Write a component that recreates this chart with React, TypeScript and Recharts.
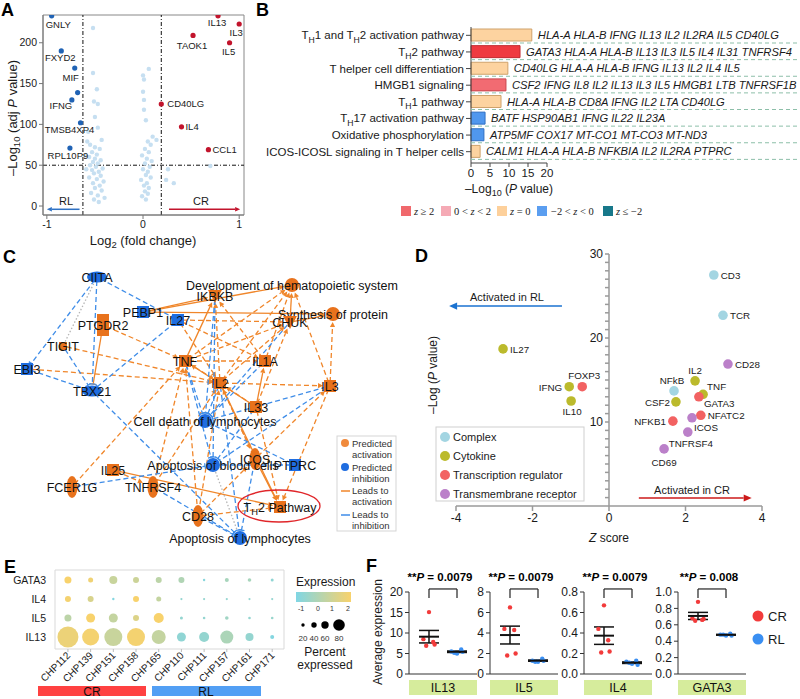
import React from "react";
import {
  ScatterChart,
  Scatter,
  XAxis,
  YAxis,
  ReferenceLine,
  ReferenceArea,
  BarChart,
  Bar,
  Cell,
  LabelList,
  ErrorBar,
} from "recharts";

const AF = "'Liberation Sans', Arial, Helvetica, sans-serif";
const SERIF = "'Liberation Serif', 'Times New Roman', serif";
const INK = "#1a1a1a";

// ---------- A: volcano ----------
const volcanoNs: [number, number][] = [
  [-0.52, 218], [-0.52, 163], [-0.48, 143], [-0.51, 128], [-0.47, 125], [-0.5, 109],
  [-0.57, 91], [-0.47, 96], [-0.43, 81], [-0.58, 79], [-0.55, 75], [-0.5, 72],
  [-0.45, 70], [-0.53, 66], [-0.48, 63], [-0.56, 60], [-0.5, 58], [-0.44, 56],
  [-0.52, 54], [-0.47, 52], [-0.55, 50], [-0.49, 48], [-0.42, 46], [-0.53, 44],
  [-0.46, 42], [-0.51, 40], [-0.44, 37], [-0.56, 35], [-0.48, 33], [-0.41, 30],
  [-0.52, 28], [-0.45, 25], [-0.5, 22], [-0.43, 19], [-0.54, 16], [-0.47, 13],
  [-0.4, 10], [-0.51, 8], [-0.46, 5], [-0.6, 62], [-0.59, 45],
  [0.06, 168], [0.0, 160], [0.01, 155], [0.0, 140], [0.01, 130], [0.01, 118],
  [0.03, 105], [0.1, 85], [0.14, 81], [0.05, 79], [0.08, 75], [0.02, 70],
  [0.06, 66], [-0.01, 62], [0.04, 58], [0.09, 55], [0.02, 52], [0.07, 48],
  [0.0, 45], [0.05, 42], [0.03, 38], [0.08, 35], [-0.02, 32], [0.04, 28],
  [0.01, 25], [0.06, 22], [0.02, 18], [0.05, 15], [-0.01, 12], [0.03, 8],
  [0.26, 45], [0.32, 28], [0.24, 32], [0.7, 49],
];
const volcanoRL = [
  { gene: "GNLY", fc: -0.95, p: 233 },
  { gene: "FXYD2", fc: -0.85, p: 190 },
  { gene: "MIF", fc: -0.71, p: 169 },
  { gene: "", fc: -0.68, p: 139 },
  { gene: "IFNG", fc: -0.74, p: 130 },
  { gene: "TMSB4XP4", fc: -0.65, p: 102 },
  { gene: "RPL10P9", fc: -0.76, p: 71 },
];
const volcanoCR = [
  { gene: "IL13", fc: 0.78, p: 233 },
  { gene: "IL3", fc: 1.0, p: 223 },
  { gene: "IL5", fc: 0.9, p: 200 },
  { gene: "TAOK1", fc: 0.52, p: 209 },
  { gene: "CD40LG", fc: 0.19, p: 125 },
  { gene: "IL4", fc: 0.4, p: 97 },
  { gene: "CCL1", fc: 0.68, p: 69 },
];
const volcanoLabelPos: Record<string, [number, number, string]> = {
  GNLY: [-6, 12.5, "start"], FXYD2: [-1, 10.5, "middle"], MIF: [-4, 12.5, "middle"],
  IFNG: [-11, 9.5, "middle"], TMSB4XP4: [-11, 10.5, "middle"], RPL10P9: [-2, 10.5, "middle"],
  IL13: [-1, 10.5, "middle"], IL3: [-3, 12.5, "middle"], IL5: [-1, 12.5, "middle"],
  TAOK1: [-1, 13.5, "middle"], CD40LG: [6, 3.5, "start"], IL4: [4, 3.5, "start"], CCL1: [4, 3.5, "start"],
};

// ---------- B: pathways ----------
const pathways = [
  "T{H}1 and T{H}2 activation pathway",
  "T{H}2 pathway",
  "T helper cell differentiation",
  "HMGB1 signaling",
  "T{H}1 pathway",
  "T{H}17 activation pathway",
  "Oxidative phosphorylation",
  "ICOS-ICOSL signaling in T helper cells",
];
const pathwayLogP = [16.0, 12.9, 9.7, 9.2, 7.9, 3.7, 3.4, 2.4];
const pathwayZ = [0, 3.1, 0, 2.2, 0, -1, -1, 0];
const pathwayGenes = [
  "HLA-A HLA-B IFNG IL13 IL2 IL2RA IL5 CD40LG",
  "GATA3 HLA-A HLA-B IL13 IL3 IL5 IL4 IL31 TNFRSF4",
  "CD40LG HLA-A HLA-B IFNG IL13 IL2 IL4 IL5",
  "CSF2 IFNG IL8 IL2 IL13 IL3 IL5 HMGB1 LTB TNFRSF1B",
  "HLA-A HLA-B CD8A IFNG IL2 LTA CD40LG",
  "BATF HSP90AB1 IFNG IL22 IL23A",
  "ATP5MF COX17 MT-CO1 MT-CO3 MT-ND3",
  "CALM1 HLA-A HLA-B NFKBIA IL2 IL2RA PTPRC",
];

// ---------- C: network ----------
const netNodes = [
  { id: "CIITA", label: "CIITA", x: 97, y: 277, state: "down", kind: "hell" },
  { id: "IKBKB", label: "IKBKB", x: 215, y: 296, state: "up", kind: "tri" },
  { id: "DEV", label: "Development of hematopoietic system", x: 292, y: 285, state: "up", kind: "circle" },
  { id: "SYN", label: "Synthesis of protein", x: 333, y: 314, state: "up", kind: "circle" },
  { id: "PEBP1", label: "PEBP1", x: 143, y: 312, state: "down", kind: "sq" },
  { id: "PTGDR2", label: "PTGDR2", x: 103, y: 325, state: "up", kind: "rect" },
  { id: "IL27", label: "IL27", x: 178, y: 320, state: "down", kind: "sq" },
  { id: "CHUK", label: "CHUK", x: 290, y: 322, state: "up", kind: "tri" },
  { id: "TIGIT", label: "TIGIT", x: 63, y: 346, state: "up", kind: "dot" },
  { id: "EBI3", label: "EBI3", x: 27, y: 369, state: "down", kind: "sq" },
  { id: "TNF", label: "TNF", x: 185, y: 361, state: "up", kind: "sq" },
  { id: "IL1A", label: "IL1A", x: 265, y: 361, state: "up", kind: "sq" },
  { id: "TBX21", label: "TBX21", x: 92, y: 391, state: "down", kind: "hell" },
  { id: "IL2", label: "IL2", x: 220, y: 383, state: "up", kind: "sq" },
  { id: "IL3", label: "IL3", x: 330, y: 386, state: "up", kind: "sq" },
  { id: "IL33", label: "IL33", x: 256, y: 407, state: "up", kind: "sq" },
  { id: "CDL", label: "Cell death of lymphocytes", x: 205, y: 421, state: "down", kind: "circle" },
  { id: "ICOS", label: "ICOS", x: 255, y: 459, state: "up", kind: "ell" },
  { id: "PTPRC", label: "PTPRC", x: 295, y: 465, state: "down", kind: "sq" },
  { id: "ABC", label: "Apoptosis of blood cells", x: 213, y: 465, state: "down", kind: "circle" },
  { id: "IL25", label: "IL25", x: 113, y: 470, state: "up", kind: "sq" },
  { id: "FCER1G", label: "FCER1G", x: 72, y: 487, state: "up", kind: "ell" },
  { id: "TNFRSF4", label: "TNFRSF4", x: 153, y: 487, state: "up", kind: "ell" },
  { id: "TH2", label: "T{H}2 Pathway", x: 280, y: 507, state: "up", kind: "sq" },
  { id: "CD28", label: "CD28", x: 198, y: 516, state: "up", kind: "ell" },
  { id: "AL", label: "Apoptosis of lymphocytes", x: 240, y: 538, state: "down", kind: "circle" },
];
// a = activation (dashed), A = activation (solid), i = inhibition, I = solid inhibition, g = no prediction
const netEdges: [string, string, string][] = [
  ["PEBP1", "IKBKB", "A"], ["PEBP1", "DEV", "A"], ["PEBP1", "SYN", "A"], ["IL27", "CHUK", "a"],
  ["TNF", "IKBKB", "A"], ["TNF", "DEV", "a"], ["TNF", "CHUK", "a"], ["TNF", "IL1A", "a"], ["TNF", "IL2", "a"],
  ["IL2", "IL3", "a"], ["IL2", "IKBKB", "a"], ["IL2", "DEV", "a"], ["IL2", "CHUK", "a"],
  ["IL1A", "DEV", "a"], ["IL1A", "IKBKB", "a"], ["IL33", "IL1A", "A"], ["IL33", "CHUK", "a"],
  ["IL33", "TNF", "A"], ["IL33", "IL2", "a"], ["IL3", "SYN", "a"], ["IL3", "DEV", "a"],
  ["CHUK", "DEV", "A"], ["CHUK", "SYN", "A"], ["IL27", "IL2", "a"], ["IL27", "IL1A", "a"],
  ["TIGIT", "IL2", "a"], ["EBI3", "IL2", "a"], ["PTGDR2", "TBX21", "I"], ["PTGDR2", "TNF", "a"],
  ["FCER1G", "TNF", "a"], ["TNFRSF4", "TNF", "a"], ["TNFRSF4", "IL2", "a"], ["IL25", "TNFRSF4", "a"],
  ["IL25", "TH2", "A"], ["CD28", "IL2", "a"], ["CD28", "TNF", "a"], ["CD28", "ICOS", "a"],
  ["CD28", "TH2", "a"], ["ICOS", "TH2", "A"], ["ICOS", "IL2", "a"], ["ICOS", "IL3", "a"],
  ["IL3", "TH2", "a"], ["IL2", "TH2", "A"], ["IL2", "ICOS", "a"], ["IL33", "TH2", "a"],
  ["CIITA", "EBI3", "i"], ["CIITA", "TBX21", "i"], ["CIITA", "IL27", "i"], ["CIITA", "TIGIT", "g"],
  ["IL27", "TBX21", "i"], ["EBI3", "TBX21", "i"], ["TIGIT", "TBX21", "i"], ["TBX21", "AL", "i"],
  ["FCER1G", "ABC", "i"], ["TNFRSF4", "AL", "i"], ["CD28", "AL", "i"], ["PTPRC", "ABC", "i"],
  ["PTPRC", "CDL", "i"], ["IL3", "CDL", "i"], ["IL3", "ABC", "i"], ["IL1A", "CDL", "i"],
  ["CHUK", "CDL", "i"], ["TNF", "CDL", "i"], ["TNF", "ABC", "i"], ["IL2", "CDL", "i"],
  ["IL2", "AL", "i"], ["ICOS", "AL", "i"], ["IKBKB", "CDL", "i"], ["IL33", "ABC", "i"],
  ["IKBKB", "ABC", "i"], ["ABC", "AL", "g"],
];

// ---------- D: upstream regulators ----------
const dComplex = [
  { name: "CD3", z: 2.74, p: 27.5 },
  { name: "TCR", z: 2.98, p: 22.7 },
  { name: "NFkB", z: 1.7, p: 13.7 },
];
const dCytokine = [
  { name: "IL27", z: -2.77, p: 18.7 },
  { name: "IFNG", z: -1.04, p: 14.2 },
  { name: "IL10", z: -0.99, p: 12.5 },
  { name: "IL2", z: 2.25, p: 14.9 },
  { name: "TNF", z: 2.46, p: 13.3 },
  { name: "CSF2", z: 1.75, p: 12.4 },
];
const dTranscription = [
  { name: "FOXP3", z: -0.7, p: 14.2 },
  { name: "GATA3", z: 2.35, p: 13.0 },
  { name: "NFATC2", z: 2.4, p: 10.8 },
  { name: "NFKB1", z: 1.67, p: 10.1 },
];
const dMembrane = [
  { name: "CD28", z: 3.11, p: 16.9 },
  { name: "ICOS", z: 2.17, p: 10.5 },
  { name: "TNFRSF4", z: 2.06, p: 8.8 },
  { name: "CD69", z: 1.44, p: 6.8 },
];
const dLabelPos: Record<string, [number, number, string]> = {
  CD3: [7, 4, "start"], TCR: [7, 4, "start"], IL27: [7, 4, "start"], CD28: [7, 4, "start"],
  IL2: [0, -7, "middle"], FOXP3: [2, -8, "middle"], IFNG: [-7, 4, "end"], NFkB: [-2, -7, "middle"],
  TNF: [4, -4, "start"], GATA3: [5, 10, "start"], IL10: [1, 14, "middle"], CSF2: [-6, 4, "end"],
  NFATC2: [7, 4, "start"], ICOS: [2, 13, "start"], NFKB1: [-7, 4, "end"], TNFRSF4: [-19, 15, "start"],
  CD69: [0, 17, "middle"],
};

// ---------- E: dot plot ----------
const eSamples = ["CHP112", "CHP139", "CHP151", "CHP158", "CHP165", "CHP110", "CHP111", "CHP157", "CHP161", "CHP171"];
const eGenes = ["IL13", "IL5", "IL4", "GATA3"];
const ePctGATA3 = [25, 15, 30, 20, 20, 20, 2, 10, 8, 5];
const ePctIL4 = [20, 20, 2, 20, 15, 1, 1, 1, 1, 1];
const ePctIL5 = [25, 35, 35, 20, 40, 5, 3, 8, 3, 3];
const ePctIL13 = [95, 75, 80, 80, 60, 35, 40, 55, 30, 10];
const eExpGATA3 = [2, 1.8, 0.8, 0.9, 0.5, 0.2, -0.8, 0, 0, -0.6];
const eExpIL4 = [1.9, 1.2, -0.9, 2, 0.7, -0.5, -0.5, -0.5, -0.5, -0.5];
const eExpIL5 = [0.5, 2, 0.7, 1.3, 2, -0.5, -0.5, -0.2, -0.5, -0.4];
const eExpIL13 = [1.7, 1.9, 0.8, 1.9, 0.7, -0.6, -0.5, 0.1, -0.5, -0.9];

// ---------- F: expression ----------
const fGenes = ["IL13", "IL5", "IL4", "GATA3"];
const fCR = [
  [15.1, 8.5, 7.8, 6.9, 7.2],
  [6.5, 4.4, 4.3, 1.8, 2.0],
  [0.67, 0.44, 0.33, 0.21, 0.22],
  [0.88, 0.68, 0.66, 0.65, 0.67],
];
const fRL = [
  [5.0, 5.5, 6.0, 5.2, 5.4],
  [1.2, 1.3, 1.5, 1.2, 1.3],
  [0.1, 0.12, 0.13, 0.11, 0.09],
  [0.47, 0.48, 0.49, 0.48, 0.47],
];
const fPvals = ["0.0079", "0.0079", "0.0079", "0.008"];
const fMax = [20, 8, 0.8, 1.0];
const fTicks = [
  [0, 5, 10, 15, 20],
  [0, 2, 4, 6, 8],
  [0, 0.2, 0.4, 0.6, 0.8],
  [0, 0.2, 0.4, 0.6, 0.8, 1.0],
];
const fJitter = [0, -0.2, 0.15, -0.1, 0.2];
const F_X0 = [409, 490, 584, 678];

// ---------- helpers ----------
const ORANGE = "#e8721c";
const BLUE = "#1f6de0";
const ORANGE_E = "#f0862a";
const BLUE_E = "#3f8de8";

function subText(s: string, fs: number) {
  const out: any[] = [];
  let shifted = false;
  s.split(/(\{[^}]*\})/)
    .filter(Boolean)
    .forEach((part, i) => {
      if (part.startsWith("{")) {
        out.push(
          <tspan key={i} dy={fs * 0.3} fontSize={fs * 0.75}>
            {part.slice(1, -1)}
          </tspan>
        );
        shifted = true;
      } else {
        out.push(
          <tspan key={i} dy={shifted ? -fs * 0.3 : 0}>
            {part}
          </tspan>
        );
        shifted = false;
      }
    });
  return out;
}

const arrowShape = (color: string, head = 6, w = 1.5) => (p: any) => {
  const { x1, y1, x2, y2 } = p;
  const a = Math.atan2(y2 - y1, x2 - x1);
  const hx = x2 - head * Math.cos(a);
  const hy = y2 - head * Math.sin(a);
  const px = -Math.sin(a) * head * 0.45;
  const py = Math.cos(a) * head * 0.45;
  return (
    <g>
      <line x1={x1} y1={y1} x2={hx} y2={hy} stroke={color} strokeWidth={w} />
      <polygon points={`${x2},${y2} ${hx + px},${hy + py} ${hx - px},${hy - py}`} fill={color} />
    </g>
  );
};

const plainLine = (p: any) => (
  <line x1={p.x1} y1={p.y1} x2={p.x2} y2={p.y2} stroke="#222" strokeWidth={1.2} />
);

const volcanoDot = (color: string) => (p: any) => {
  const lab = volcanoLabelPos[p.payload.gene];
  return (
    <g>
      <circle cx={p.cx} cy={p.cy} r={2.6} fill={color} />
      {lab && (
        <text x={p.cx + lab[0]} y={p.cy + lab[1]} textAnchor={lab[2]} fontSize={9.5} fontFamily={AF} fill={INK}>
          {p.payload.gene}
        </text>
      )}
    </g>
  );
};

const nsDot = (p: any) => <circle cx={p.cx} cy={p.cy} r={2.2} fill="#c6dff1" />;

function zStyle(z: number) {
  if (z >= 3) return { fill: "#ef3a40", stroke: "#c22b31" };
  if (z >= 2) return { fill: "#f26b72", stroke: "#c9464d" };
  if (z > 0) return { fill: "#f5aab5", stroke: "#d0808c" };
  if (z === 0) return { fill: "#fdd3a0", stroke: "#cfa26b" };
  if (z > -2) return { fill: "#5097ee", stroke: "#2f6fc2" };
  return { fill: "#17788a", stroke: "#0f5663" };
}

const bTick = (p: any) => (
  <text x={p.x} y={p.y + 4} textAnchor="end" fontSize={11.5} fontFamily={AF} fill={INK}>
    {subText(p.payload.value, 11.5)}
  </text>
);

const geneLabel = (p: any) => {
  const { x, y, width, height, value } = p;
  const cy = y + height / 2;
  return (
    <g>
      <line x1={x} x2={798} y1={cy + 8} y2={cy + 8} stroke="#8dbfa9" strokeDasharray="4 3" strokeWidth={1} />
      <text x={x + width + 6} y={cy + 4} fontSize={11.2} fontStyle="italic" fontFamily={AF} fill={INK}>
        {value}
      </text>
    </g>
  );
};

const nodeR: Record<string, number> = { circle: 7, sq: 6, rect: 10, ell: 10, hell: 6, tri: 6, dot: 4 };
const nodeById: Record<string, any> = {};
netNodes.forEach((n) => (nodeById[n.id] = n));

const edgeShape = (kind: string, rEnd: number) => (p: any) => {
  const { x1, y1, x2, y2 } = p;
  const dx = x2 - x1;
  const dy = y2 - y1;
  const L = Math.hypot(dx, dy) || 1;
  const ux = dx / L;
  const uy = dy / L;
  const sx = x1 + ux * 4;
  const sy = y1 + uy * 4;
  const ex = x2 - ux * (rEnd + 1);
  const ey = y2 - uy * (rEnd + 1);
  const col = kind === "i" ? BLUE_E : kind === "g" ? "#b5b5b5" : ORANGE_E;
  const dash = kind === "A" || kind === "I" ? undefined : kind === "g" ? "1.5 2" : "5 3";
  const head = kind === "a" || kind === "A";
  const bar = kind === "i" || kind === "I";
  const hx = ex - ux * 5;
  const hy = ey - uy * 5;
  return (
    <g>
      <line x1={sx} y1={sy} x2={head ? hx : ex} y2={head ? hy : ey} stroke={col} strokeWidth={1.3} strokeDasharray={dash} />
      {head && (
        <polygon points={`${ex},${ey} ${hx - uy * 2.6},${hy + ux * 2.6} ${hx + uy * 2.6},${hy - ux * 2.6}`} fill={col} />
      )}
      {bar && <line x1={ex - uy * 3} y1={ey + ux * 3} x2={ex + uy * 3} y2={ey - ux * 3} stroke={col} strokeWidth={1.3} />}
    </g>
  );
};

const nodeShape = (p: any) => {
  const { cx, cy, payload } = p;
  const col = payload.state === "up" ? ORANGE : BLUE;
  let mark: any = null;
  switch (payload.kind) {
    case "circle":
      mark = <circle cx={cx} cy={cy} r={7} fill={col} />;
      break;
    case "rect":
      mark = <rect x={cx - 6} y={cy - 11} width={12} height={22} fill={col} />;
      break;
    case "ell":
      mark = <ellipse cx={cx} cy={cy} rx={5.5} ry={11} fill={col} />;
      break;
    case "hell":
      mark = <ellipse cx={cx} cy={cy} rx={10} ry={5.5} fill={col} />;
      break;
    case "tri":
      mark = <polygon points={`${cx - 7},${cy - 6} ${cx + 7},${cy - 6} ${cx},${cy + 7}`} fill={col} />;
      break;
    case "dot":
      mark = <rect x={cx - 4} y={cy - 4} width={8} height={8} fill={col} />;
      break;
    default:
      mark = <rect x={cx - 6} y={cy - 6} width={12} height={12} fill={col} />;
  }
  return (
    <g>
      {mark}
      <text x={cx} y={cy + 4.5} textAnchor="middle" fontSize={12.5} fontFamily={AF} fill="#111">
        {subText(payload.label, 12.5)}
      </text>
    </g>
  );
};

const blankShape = () => <g />;

const dDot = (color: string) => (p: any) => {
  const lab = dLabelPos[p.payload.name];
  return (
    <g>
      <circle cx={p.cx} cy={p.cy} r={4.8} fill={color} />
      {lab && (
        <text x={p.cx + lab[0]} y={p.cy + lab[1]} textAnchor={lab[2]} fontSize={9.8} fontFamily={AF} fill={INK}>
          {p.payload.name}
        </text>
      )}
    </g>
  );
};

const dYTick = (p: any) => {
  const v = p.payload.value;
  if (v % 10 !== 0) return <g />;
  return (
    <text x={p.x} y={p.y + 4} textAnchor="end" fontSize={12} fontFamily={AF} fill={INK}>
      {v}
    </text>
  );
};

function exprColor(v: number) {
  const t = Math.max(0, Math.min(1, (v + 1) / 3));
  const c0 = [128, 214, 228];
  const c1 = [248, 210, 108];
  const c = c0.map((a, i) => Math.round(a + (c1[i] - a) * t));
  return `rgb(${c[0]},${c[1]},${c[2]})`;
}

const eDot = (p: any) => (
  <circle cx={p.cx} cy={p.cy} r={1 + p.payload.pct * 0.1} fill={exprColor(p.payload.expr)} />
);

const eXTick = (p: any) => {
  const x = p.x + 3;
  const y = p.y + 2;
  return (
    <text x={x} y={y} transform={`rotate(-45 ${x} ${y})`} textAnchor="end" fontSize={10} fontFamily={AF} fill={INK}>
      {eSamples[p.payload.value]}
    </text>
  );
};

const meanShape = (p: any) => (
  <line x1={p.cx - 10} x2={p.cx + 10} y1={p.cy} y2={p.cy} stroke="#111" strokeWidth={2} />
);
const fDot = (color: string) => (p: any) => <circle cx={p.cx} cy={p.cy} r={2.2} fill={color} />;

const mean = (a: number[]) => a.reduce((s, v) => s + v, 0) / a.length;
const sem = (a: number[]) => {
  const m = mean(a);
  const sd = Math.sqrt(a.reduce((s, v) => s + (v - m) * (v - m), 0) / (a.length - 1));
  return sd / Math.sqrt(a.length);
};

function FPlot({ idx }: { idx: number }) {
  const x0 = F_X0[idx];
  const max = fMax[idx];
  const cr = fCR[idx].map((v, i) => ({ x: 1 + fJitter[i], y: v }));
  const rl = fRL[idx].map((v, i) => ({ x: 2 + fJitter[i], y: v }));
  const stats = [
    { x: 1, y: mean(fCR[idx]), err: sem(fCR[idx]) },
    { x: 2, y: mean(fRL[idx]), err: sem(fRL[idx]) },
  ];
  const top = max * 1.037;
  const low = max * 0.927;
  const fmt = (v: number) => (max < 2 ? v.toFixed(1) : String(v));
  return (
    <div style={{ position: "absolute", left: x0 - 40, top: 570 }}>
      <ScatterChart width={110} height={120} margin={{ top: 22, right: 2, bottom: 11, left: 0 }}>
        <XAxis type="number" dataKey="x" domain={[0.286, 2.714]} ticks={[1, 2]} tick={false} tickSize={4} height={5} stroke="#333" allowDataOverflow />
        <YAxis
          type="number"
          dataKey="y"
          domain={[0, max]}
          ticks={fTicks[idx]}
          interval={0}
          width={40}
          stroke="#333"
          tickSize={4}
          tickFormatter={fmt}
          tick={{ fontSize: 12, fill: INK, fontFamily: AF }}
        />
        <ReferenceLine segment={[{ x: 1, y: low }, { x: 1, y: top }]} ifOverflow="visible" shape={plainLine} />
        <ReferenceLine segment={[{ x: 1, y: top }, { x: 2, y: top }]} ifOverflow="visible" shape={plainLine} />
        <ReferenceLine segment={[{ x: 2, y: top }, { x: 2, y: low }]} ifOverflow="visible" shape={plainLine} />
        <Scatter data={cr} shape={fDot("#f23b3b")} isAnimationActive={false} />
        <Scatter data={rl} shape={fDot("#3a8ff2")} isAnimationActive={false} />
        <Scatter data={stats} shape={meanShape} isAnimationActive={false}>
          <ErrorBar dataKey="err" direction="y" width={10} stroke="#111" strokeWidth={1.5} />
        </Scatter>
      </ScatterChart>
    </div>
  );
}

export default function App() {
  const bData = pathways.map((name, i) => ({
    name,
    logp: pathwayLogP[i],
    z: pathwayZ[i],
    genes: pathwayGenes[i],
  }));

  const nsData = volcanoNs.map(([fc, p]) => ({ fc, p }));

  const eData: any[] = [];
  const ePct = [ePctIL13, ePctIL5, ePctIL4, ePctGATA3];
  const eExp = [eExpIL13, eExpIL5, eExpIL4, eExpGATA3];
  eGenes.forEach((g, gi) =>
    eSamples.forEach((s, si) => eData.push({ x: si, y: gi, pct: ePct[gi][si], expr: eExp[gi][si] }))
  );

  const edgeLines = netEdges.map(([a, b, k], i) => {
    const na = nodeById[a];
    const nb = nodeById[b];
    return (
      <ReferenceLine
        key={i}
        segment={[{ x: na.x, y: na.y }, { x: nb.x, y: nb.y }]}
        ifOverflow="visible"
        shape={edgeShape(k, nodeR[nb.kind] ?? 6)}
      />
    );
  });

  const dTicks = Array.from({ length: 30 }, (_, i) => i + 1);

  return (
    <div style={{ position: "absolute", left: 0, top: 0, width: 800, height: 699, background: "#fff", fontFamily: AF }}>
      {/* A */}
      <div style={{ position: "absolute", left: 0, top: 0 }}>
        <ScatterChart width={250} height={250} margin={{ top: 15, right: 6, bottom: 0, left: 0 }}>
          <XAxis type="number" dataKey="fc" domain={[-1.04, 1.05]} ticks={[-1, 0, 1]} height={35} stroke="#777" tickSize={4}
            tick={{ fontSize: 10.5, fill: INK, fontFamily: AF }} allowDataOverflow />
          <YAxis type="number" dataKey="p" domain={[-11, 234]} ticks={[0, 50, 100, 150, 200]} width={43} stroke="#777" tickSize={4}
            tick={{ fontSize: 10.5, fill: INK, fontFamily: AF }} allowDataOverflow />
          <ReferenceArea x1={-1.04} x2={1.05} y1={-11} y2={234} fill="none" stroke="#888" strokeWidth={1} ifOverflow="visible" />
          <Scatter data={nsData} shape={nsDot} isAnimationActive={false} />
          <ReferenceLine x={-0.625} stroke="#111" strokeDasharray="4 2 1 2" />
          <ReferenceLine x={0.19} stroke="#111" strokeDasharray="4 2 1 2" />
          <ReferenceLine y={50} stroke="#111" strokeDasharray="4 2 1 2" />
          <Scatter data={volcanoRL} shape={volcanoDot("#2063b5")} isAnimationActive={false} />
          <Scatter data={volcanoCR} shape={volcanoDot("#c2142c")} isAnimationActive={false} />
          <ReferenceLine segment={[{ x: -0.66, y: -4 }, { x: -1.0, y: -4 }]} ifOverflow="visible" shape={arrowShape("#2f72c4", 5, 1.5)} />
          <ReferenceLine segment={[{ x: 0.27, y: -4 }, { x: 1.01, y: -4 }]} ifOverflow="visible" shape={arrowShape("#c2142c", 5, 1.5)} />
        </ScatterChart>
      </div>

      {/* B */}
      <div style={{ position: "absolute", left: 0, top: 0 }}>
        <BarChart layout="vertical" width={800} height={200} data={bData} margin={{ top: 27, right: 253, bottom: 0, left: 211 }}>
          <XAxis type="number" domain={[0, 20]} ticks={[0, 5, 10, 15, 20]} height={37} stroke="#444" tickSize={4}
            tick={{ fontSize: 11.5, fill: INK, fontFamily: AF }} />
          <YAxis type="category" dataKey="name" width={260} tick={bTick} tickSize={5} stroke="#444" interval={0} padding={{ top: 0, bottom: 3 }} />
          <Bar dataKey="logp" barSize={12} isAnimationActive={false}>
            {bData.map((d, i) => {
              const st = zStyle(d.z);
              return <Cell key={i} fill={st.fill} stroke={st.stroke} strokeWidth={1} />;
            })}
            <LabelList dataKey="genes" content={geneLabel} />
          </Bar>
        </BarChart>
      </div>

      {/* C edges */}
      <div style={{ position: "absolute", left: 0, top: 250 }}>
        <ScatterChart width={420} height={300} margin={{ top: 0, right: 0, bottom: 0, left: 0 }}>
          <XAxis type="number" dataKey="x" domain={[0, 420]} hide />
          <YAxis type="number" dataKey="y" domain={[250, 550]} reversed hide />
          {edgeLines}
          <Scatter data={netNodes} shape={blankShape} isAnimationActive={false} />
        </ScatterChart>
      </div>
      {/* C nodes */}
      <div style={{ position: "absolute", left: 0, top: 250 }}>
        <ScatterChart width={420} height={300} margin={{ top: 0, right: 0, bottom: 0, left: 0 }}>
          <XAxis type="number" dataKey="x" domain={[0, 420]} hide />
          <YAxis type="number" dataKey="y" domain={[250, 550]} reversed hide />
          <Scatter data={netNodes} shape={nodeShape} isAnimationActive={false} />
        </ScatterChart>
      </div>

      {/* D */}
      <div style={{ position: "absolute", left: 400, top: 240 }}>
        <ScatterChart width={400} height={310} margin={{ top: 14, right: 38, bottom: 0, left: 56 }}>
          <XAxis type="number" dataKey="z" domain={[-4, 4]} ticks={[-4, -2, 0, 2, 4]} height={44} stroke="#9a9a9a" strokeWidth={1.5}
            tickSize={5} tick={{ fontSize: 12, fill: INK, fontFamily: AF }} />
          <YAxis type="number" dataKey="p" domain={[0, 30]} hide />
          <ReferenceLine segment={[{ x: -1.23, y: 23.8 }, { x: -4.18, y: 23.8 }]} ifOverflow="visible" shape={arrowShape("#1a72d0", 8, 1.5)} />
          <ReferenceLine segment={[{ x: 0.78, y: 0.95 }, { x: 3.73, y: 0.95 }]} ifOverflow="visible" shape={arrowShape("#cc1a1a", 8, 1.5)} />
          <Scatter data={dComplex} shape={dDot("#a3d5e2")} isAnimationActive={false} />
          <Scatter data={dCytokine} shape={dDot("#bbba2c")} isAnimationActive={false} />
          <Scatter data={dTranscription} shape={dDot("#f26262")} isAnimationActive={false} />
          <Scatter data={dMembrane} shape={dDot("#bb80c9")} isAnimationActive={false} />
        </ScatterChart>
      </div>
      {/* D: y axis at z = 0 */}
      <div style={{ position: "absolute", left: 400, top: 240 }}>
        <ScatterChart width={400} height={310} margin={{ top: 14, right: 10, bottom: 44, left: 169 }}>
          <XAxis type="number" dataKey="z" domain={[0, 1]} hide />
          <YAxis type="number" dataKey="p" domain={[0, 30]} ticks={dTicks} interval={0} width={40} stroke="#9a9a9a" strokeWidth={1.5}
            tickSize={4} tick={dYTick} />
          <Scatter data={dComplex} shape={blankShape} isAnimationActive={false} />
        </ScatterChart>
      </div>

      {/* E */}
      <div style={{ position: "absolute", left: 0, top: 560 }}>
        <ScatterChart width={290} height={139} margin={{ top: 10, right: 6, bottom: 0, left: 5 }}>
          <XAxis type="number" dataKey="x" domain={[-0.57, 9.52]} ticks={[0, 1, 2, 3, 4, 5, 6, 7, 8, 9]} interval={0} height={50}
            axisLine={false} tickSize={3} stroke="#bbb" tick={eXTick} />
          <YAxis type="number" dataKey="y" domain={[-0.63, 3.53]} ticks={[0, 1, 2, 3]} interval={0} width={50} axisLine={false}
            tickLine={false} tickMargin={3} tickFormatter={(v: number) => eGenes[v]} tick={{ fontSize: 10.5, fill: INK, fontFamily: AF }} />
          <ReferenceArea x1={-0.57} x2={9.52} y1={-0.63} y2={3.53} fill="none" stroke="#d9d9d9" ifOverflow="visible" />
          <Scatter data={eData} shape={eDot} isAnimationActive={false} />
        </ScatterChart>
      </div>

      {/* F */}
      {fGenes.map((g, i) => (
        <FPlot key={g} idx={i} />
      ))}

      {/* overlay: titles, legends, annotations */}
      <svg width={800} height={699} style={{ position: "absolute", left: 0, top: 0, pointerEvents: "none" }} fontFamily={AF}>
        <g fontSize={18} fontWeight="bold" fill="#000">
          <text x={1} y={16}>A</text>
          <text x={256} y={16}>B</text>
          <text x={3} y={263}>C</text>
          <text x={415} y={262}>D</text>
          <text x={4} y={573}>E</text>
          <text x={366} y={572}>F</text>
        </g>

        {/* A titles */}
        <text transform="translate(17 118) rotate(-90)" textAnchor="middle" fontSize={13} fill={INK}>
          –Log<tspan fontSize={9.5} dy={3}>10</tspan>
          <tspan dy={-3}> (adj </tspan>
          <tspan fontStyle="italic">P</tspan> value)
        </text>
        <text x={143} y={245} textAnchor="middle" fontSize={13} fill={INK}>
          Log<tspan fontSize={9.5} dy={3}>2</tspan>
          <tspan dy={-3}> (fold change)</tspan>
        </text>
        <text x={66} y={205} textAnchor="middle" fontSize={11} fill={INK}>RL</text>
        <text x={201} y={205} textAnchor="middle" fontSize={11} fill={INK}>CR</text>

        {/* B axis title + legend */}
        <text x={509} y={193} textAnchor="middle" fontSize={12} fill={INK}>
          –Log<tspan fontSize={9} dy={3}>10</tspan>
          <tspan dy={-3}> (</tspan>
          <tspan fontStyle="italic">P</tspan> value)
        </text>
        <g fontFamily={SERIF} fontSize={10.5} fill={INK}>
          <rect x={401} y={206} width={10} height={10} fill="#f0686c" />
          <text x={414} y={215}><tspan fontStyle="italic">z</tspan> ≥ 2</text>
          <rect x={441} y={206} width={10} height={10} fill="#f5aab5" />
          <text x={454} y={215}>0 &lt; <tspan fontStyle="italic">z</tspan> &lt; 2</text>
          <rect x={497} y={206} width={10} height={10} fill="#fdd09b" />
          <text x={510} y={215}><tspan fontStyle="italic">z</tspan> = 0</text>
          <rect x={537} y={206} width={10} height={10} fill="#5b9ef0" />
          <text x={551} y={215}>−2 &lt; <tspan fontStyle="italic">z</tspan> &lt; 0</text>
          <rect x={603} y={206} width={10} height={10} fill="#17788a" />
          <text x={616} y={215}><tspan fontStyle="italic">z</tspan> ≤ −2</text>
        </g>

        {/* C legend + highlight */}
        <ellipse cx={279} cy={506} rx={41} ry={16} fill="none" stroke="#e0262a" strokeWidth={1.3} />
        <rect x={337} y={436} width={59} height={95} fill="none" stroke="#d5d5d5" />
        <g fontSize={9.5} fill="#333">
          <circle cx={345} cy={443} r={4} fill="#f08a3c" />
          <text x={352} y={447}>Predicted</text>
          <text x={352} y={458}>activation</text>
          <circle cx={345} cy={467} r={4} fill={BLUE} />
          <text x={352} y={471}>Predicted</text>
          <text x={352} y={482}>inhibition</text>
          <line x1={341} x2={350} y1={491} y2={491} stroke={ORANGE_E} strokeWidth={1.5} />
          <text x={352} y={494}>Leads to</text>
          <text x={352} y={505}>activation</text>
          <line x1={341} x2={350} y1={515} y2={515} stroke={BLUE_E} strokeWidth={1.5} />
          <text x={352} y={518}>Leads to</text>
          <text x={352} y={529}>inhibition</text>
        </g>

        {/* D annotations */}
        <text x={507} y={301} textAnchor="middle" fontSize={11} fill={INK}>Activated in RL</text>
        <text x={692} y={494} textAnchor="middle" fontSize={11} fill={INK}>Activated in CR</text>
        <text transform="translate(437 375) rotate(-90)" textAnchor="middle" fontSize={12} fill={INK}>
          –Log (<tspan fontStyle="italic">P</tspan> value)
        </text>
        <text x={609} y={542} textAnchor="middle" fontSize={12} fill={INK}>
          <tspan fontStyle="italic">Z</tspan> score
        </text>
        <rect x={436} y={427} width={148} height={74} fill="#fff" stroke="#cfcfcf" />
        <g fontSize={11} fill={INK}>
          <circle cx={445} cy={437} r={5} fill="#a3d5e2" />
          <text x={453} y={441}>Complex</text>
          <circle cx={445} cy={456} r={5} fill="#bbba2c" />
          <text x={453} y={460}>Cytokine</text>
          <circle cx={445} cy={475} r={5} fill="#f26262" />
          <text x={453} y={479}>Transcription regulator</text>
          <circle cx={445} cy={494} r={5} fill="#bb80c9" />
          <text x={453} y={498}>Transmembrane receptor</text>
        </g>

        {/* E legend */}
        <defs>
          <linearGradient id="exprGrad" x1="0" x2="1" y1="0" y2="0">
            <stop offset="0" stopColor="#80d6e4" />
            <stop offset="1" stopColor="#f8d26c" />
          </linearGradient>
        </defs>
        <text x={296} y={586} fontSize={12} fill={INK}>Expression</text>
        <rect x={296} y={592} width={55} height={10} fill="url(#exprGrad)" />
        <g fontSize={7} fill="#333" textAnchor="middle">
          <text x={301} y={611}>-1</text>
          <text x={318} y={611}>0</text>
          <text x={332} y={611}>1</text>
          <text x={348} y={611}>2</text>
        </g>
        <circle cx={303} cy={625} r={1.7} fill="#000" />
        <circle cx={314} cy={625} r={2.7} fill="#000" />
        <circle cx={325} cy={625} r={3.7} fill="#000" />
        <circle cx={339} cy={625} r={5.8} fill="#000" />
        <g fontSize={8} fill="#333" textAnchor="middle">
          <text x={303} y={641}>20</text>
          <text x={314} y={641}>40</text>
          <text x={325} y={641}>60</text>
          <text x={339} y={641}>80</text>
        </g>
        <text x={325} y={656} textAnchor="middle" fontSize={12} fill={INK}>Percent</text>
        <text x={325} y={669} textAnchor="middle" fontSize={12} fill={INK}>expressed</text>
        <rect x={38} y={686} width={108} height={10} fill="#ff4141" />
        <text x={92} y={695.5} textAnchor="middle" fontSize={12} fill="#111">CR</text>
        <rect x={152} y={686} width={109} height={10} fill="#529ff4" />
        <text x={206} y={695.5} textAnchor="middle" fontSize={12} fill="#111">RL</text>

        {/* F titles, labels, legend */}
        <text transform="translate(382 632) rotate(-90)" textAnchor="middle" fontSize={12} fill={INK}>Average expression</text>
        {fGenes.map((g, i) => (
          <g key={g}>
            <text x={F_X0[i] + 31} y={581} textAnchor="middle" fontSize={11.5} fontWeight="bold" fill="#000">
              **<tspan fontStyle="italic">P</tspan> = {fPvals[i]}
            </text>
            <rect x={F_X0[i]} y={680} width={68} height={15} fill="#d6ec9c" />
            <text x={F_X0[i] + 34} y={692} textAnchor="middle" fontSize={12.5} fill="#111">{g}</text>
          </g>
        ))}
        <circle cx={758} cy={616} r={5.5} fill="#f23b3b" />
        <text x={768} y={620.5} fontSize={13} fill={INK}>CR</text>
        <circle cx={758} cy={639} r={5.5} fill="#3a8ff2" />
        <text x={768} y={643.5} fontSize={13} fill={INK}>RL</text>
      </svg>
    </div>
  );
}
